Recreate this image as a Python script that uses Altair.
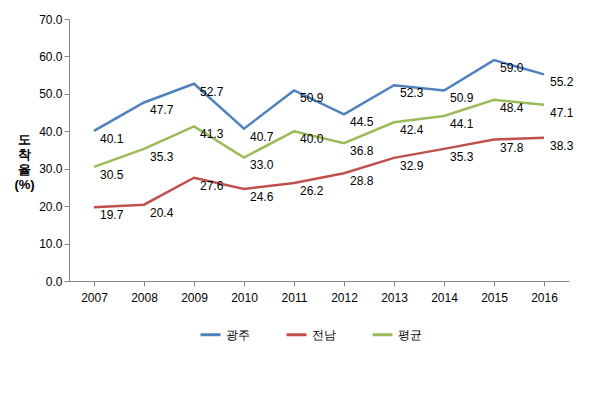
import altair as alt
import pandas as pd

years = ["2007","2008","2009","2010","2011","2012","2013","2014","2015","2016"]
gwangju = [40.1,47.7,52.7,40.7,50.9,44.5,52.3,50.9,59.0,55.2]
jeonnam = [19.7,20.4,27.6,24.6,26.2,28.8,32.9,35.3,37.8,38.3]
avg = [30.5,35.3,41.3,33.0,40.0,36.8,42.4,44.1,48.4,47.1]
series = ["광주","전남","평균"]
colors = ["#4F81BD","#C0504D","#9BBB59"]

rows = []
for name, vals in zip(series, [gwangju, jeonnam, avg]):
    for y, v in zip(years, vals):
        rows.append({"year": y, "value": v, "series": name})
df = pd.DataFrame(rows)

x = alt.X("year:O", title=None, scale=alt.Scale(paddingOuter=0.5),
          axis=alt.Axis(labelAngle=0, labelFontSize=12, labelColor="#000", domainColor="#888", tickColor="#888", labelPadding=6))
y = alt.Y("value:Q", scale=alt.Scale(domain=[0,70]),
          axis=alt.Axis(values=[0,10,20,30,40,50,60,70], format=".1f", grid=False, labelFontSize=12, labelColor="#000",
                        domainColor="#888", tickColor="#888",
                        title=["도","착","율","(%)"], titleAngle=0, titleFontSize=13, titleFontWeight="bold",
                        titleAlign="center", titleBaseline="middle", titleY=120, titleX=-45))
col = alt.Color("series:N", scale=alt.Scale(domain=series, range=colors),
                legend=alt.Legend(orient="none", legendX=130, legendY=304, direction="horizontal",
                                  title=None, labelFontSize=12, symbolType="stroke",
                                  symbolStrokeWidth=3, symbolSize=400, columnPadding=30))

lines = alt.Chart(df).mark_line(strokeWidth=2.5).encode(x=x, y=y, color=col)
labels = alt.Chart(df).mark_text(align="left", dx=6, dy=8, fontSize=12, color="#000").encode(
    x=x, y=y, text=alt.Text("value:Q", format=".1f"))

chart = (lines + labels).properties(
    width=500, height=262,
    title=alt.TitleParams("광주·전남지역 STEMI 환자의 증상발생 후 2시간 이내 도착율", orient="bottom",
                          fontSize=17, fontWeight="normal", offset=62, anchor="end")
).configure_view(stroke=None)

chart.save("out.html", embed_options={"renderer": "svg", "actions": False})
